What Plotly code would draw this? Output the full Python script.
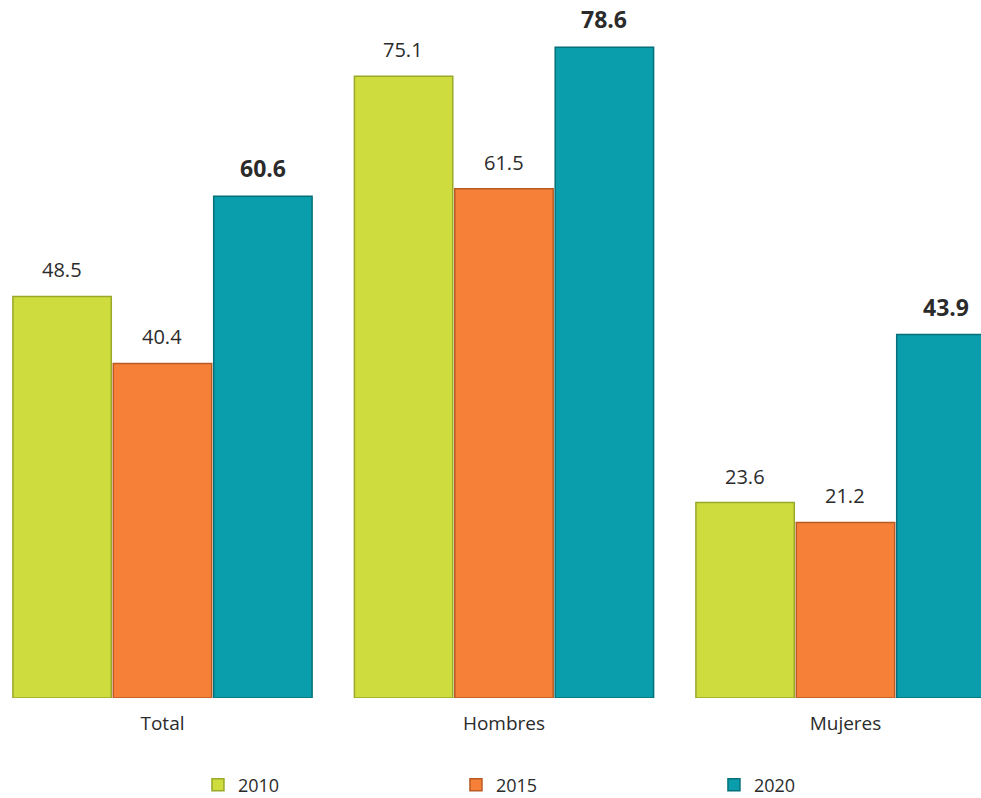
import plotly.graph_objects as go

categories = ["Total", "Hombres", "Mujeres"]
years = ["2010", "2015", "2020"]
v2010 = [48.5, 75.1, 23.6]
v2015 = [40.4, 61.5, 21.2]
v2020 = [60.6, 78.6, 43.9]

series = [v2010, v2015, v2020]
colors = ["#CEDC3E", "#F78039", "#0A9EAC"]
edge = ["#9AA82A", "#B85A22", "#05707A"]
bold = [False, False, True]

fig = go.Figure()
for yr, vals, c, e in zip(years, series, colors, edge):
    fig.add_trace(go.Bar(
        name=yr, x=categories, y=vals,
        marker=dict(color=c, line=dict(color=e, width=1.5)),
        hoverinfo="skip",
    ))

offsets = [-100.5, 0, 100.5]
for i, (vals, b) in enumerate(zip(series, bold)):
    for cat, v in zip(categories, vals):
        txt = f"<b>{v:.1f}</b>" if b else f"{v:.1f}"
        fig.add_annotation(
            x=cat, y=v, text=txt, showarrow=False,
            xshift=offsets[i], yanchor="bottom", yshift=10 if b else 11,
            font=dict(family="Open Sans", size=23 if b else 20, color="#2b2b2b"),
        )

fig.update_layout(
    width=981, height=798,
    margin=dict(l=0, r=0, t=0, b=100, autoexpand=False),
    plot_bgcolor="white", paper_bgcolor="white",
    barmode="group", bargap=0.118, bargroupgap=0.02,
    showlegend=True,
    legend=dict(
        orientation="h", x=0.2018, xanchor="left", y=-0.1246, yanchor="middle",
        entrywidth=213, entrywidthmode="pixels",
        font=dict(family="Open Sans", size=18, color="#2b2b2b"),
        traceorder="normal",
    ),
    font=dict(family="Open Sans"),
)
fig.update_xaxes(
    range=[-0.4758, 2.3968], showline=False, showgrid=False, ticks="",
    ticklabelstandoff=12,
    tickfont=dict(family="Open Sans", size=19, color="#2b2b2b"),
)
fig.update_yaxes(range=[0, 84.3], visible=False, showgrid=False, zeroline=False)

fig.write_html(
    "out.html",
    config={"displayModeBar": False},
    post_script="document.body.style.margin='0';document.body.style.overflow='hidden';",
)
